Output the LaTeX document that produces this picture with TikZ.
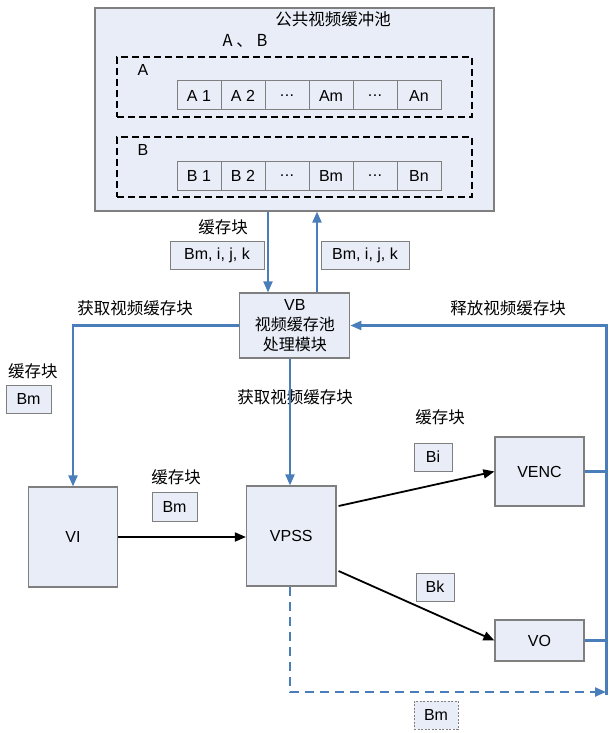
\documentclass[tikz,border=0pt]{standalone}
\usepackage{fontspec}
\setmainfont{Liberation Sans}
\newfontfamily\cjk{Noto Sans CJK SC}
\usetikzlibrary{arrows.meta, calc}
\definecolor{boxfill}{HTML}{E8EDF7}
\definecolor{boxline}{HTML}{7F7F7F}
\definecolor{flowblue}{HTML}{4A7EBB}
\tikzset{
    module/.style={
        rectangle, draw=boxline, fill=boxfill, line width=1.2pt,
        inner sep=0pt, text centered,
        font=\fontsize{16}{20}\selectfont
    },
    tag/.style={module, line width=1pt},
    cell/.style={
        rectangle, draw=boxline, fill=boxfill, line width=1pt,
        minimum width=44pt, minimum height=29pt, inner sep=0pt,
        font=\fontsize{16}{18}\selectfont
    },
    group/.style={rectangle, draw=black, dash pattern=on 7pt off 4pt, line width=2pt, inner sep=0pt},
    note/.style={font=\cjk\fontsize{16.5}{18}\selectfont, inner sep=0pt},
    flow/.style={draw=flowblue, line width=2.2pt, -{Triangle[length=11pt,width=9pt]}},
    data/.style={draw=black, line width=1.8pt, -{Triangle[length=11pt,width=9pt]}}
}
\newcommand\ellip{.\kern0.5pt.\kern0.5pt.}

\begin{document}
\begin{tikzpicture}[x=1pt, y=-1pt]
    \useasboundingbox (0,0) rectangle (612,733);

    % Public buffer pool
    \node[module, minimum width=399pt, minimum height=203pt] (pool) at (294.5,109.5) {};
    \node[note] (pooltitle) at (333,19) {公共视频缓冲池};
    \node[note] (poolab) at (245,41) {A 、 B};

    \foreach \grp/\y in {A/87, B/167} {
        \node[group, minimum width=355pt, minimum height=60pt] (grp\grp) at (294.5,\y) {};
        \node[font=\fontsize{16}{18}\selectfont, inner sep=0pt] (lbl\grp) at (143,\y-17) {\grp};
        \foreach \t [count=\i from 0] in {\grp~1, \grp~2, \ellip, \grp m, \ellip, \grp n} {
            \node[cell] (\grp\i) at (199+44*\i,\y+8.5) {\t};
        }
    }

    % Modules
    \node[module, minimum width=110pt, minimum height=65pt, align=center] (vb) at (294.75,325.5)
        {VB\\{\cjk 视频缓存池}\\{\cjk 处理模块}};
    \node[module, minimum width=89pt, minimum height=100pt] (vi) at (73,537) {VI};
    \node[module, minimum width=89.5pt, minimum height=100pt] (vpss) at (291.25,536) {VPSS};
    \node[module, minimum width=89pt, minimum height=69pt] (venc) at (539.5,471.5) {VENC};
    \node[module, minimum width=89pt, minimum height=41pt] (vo) at (539.5,640.5) {VO};

    % Buffer tags
    \node[tag, minimum width=94pt, minimum height=28pt] (tagget) at (217,255) {Bm, i, j, k};
    \node[tag, minimum width=88pt, minimum height=28pt] (tagrel) at (365,255) {Bm, i, j, k};
    \node[tag, minimum width=45pt, minimum height=28pt] (tagleft) at (28.5,399) {Bm};
    \node[tag, minimum width=45pt, minimum height=29pt] (tagvi) at (174.5,506.5) {Bm};
    \node[tag, minimum width=38pt, minimum height=28pt] (tagbi) at (433,457) {Bi};
    \node[tag, minimum width=38pt, minimum height=28pt] (tagbk) at (435,587) {Bk};
    \node[tag, minimum width=44pt, minimum height=28pt, dash pattern=on 2pt off 1.5pt] (tagbm) at (436,715) {Bm};

    % Captions
    \node[note] (capget) at (223,227) {缓存块};
    \node[note] (capacq) at (135,308) {获取视频缓存块};
    \node[note] (caprel) at (508,308) {释放视频缓存块};
    \node[note] (capleft) at (33,371) {缓存块};
    \node[note] (capvpss) at (295,397) {获取视频缓存块};
    \node[note] (capvi) at (176,477) {缓存块};
    \node[note] (capout) at (440,417) {缓存块};

    \coordinate (dncol) at (268,0);
    \coordinate (upcol) at (317,0);
    \coordinate (vpsscol) at (290,0);
    \coordinate (rcol) at (606.5,695);
    \coordinate (dashend) at (606,692);

    % Blue control flow
    \draw[flow] (pool.south -| dncol) -- (vb.north -| dncol);
    \draw[flow] (vb.north -| upcol) -- (pool.south -| upcol);
    \draw[flow] (vb.west) -| (vi.north);
    \draw[flow] (rcol) |- (vb.east);
    \draw[flow, -] (venc.east) -- (venc.east -| rcol);
    \draw[flow, -] (vo.east) -- (vo.east -| rcol);
    \draw[flow] (vb.south -| vpsscol) -- (vpss.north -| vpsscol);
    \draw[flow, dash pattern=on 9pt off 6pt] (vpss.south -| vpsscol) |- (dashend);

    % Data flow
    \draw[data] (vi.east) -- (vi.east -| vpss.west);
    \draw[data] ([xshift=2pt, yshift=30pt]vpss.east) -- (venc.west);
    \draw[data] ([xshift=2pt, yshift=-35pt]vpss.east) -- (vo.west);
\end{tikzpicture}
\end{document}
